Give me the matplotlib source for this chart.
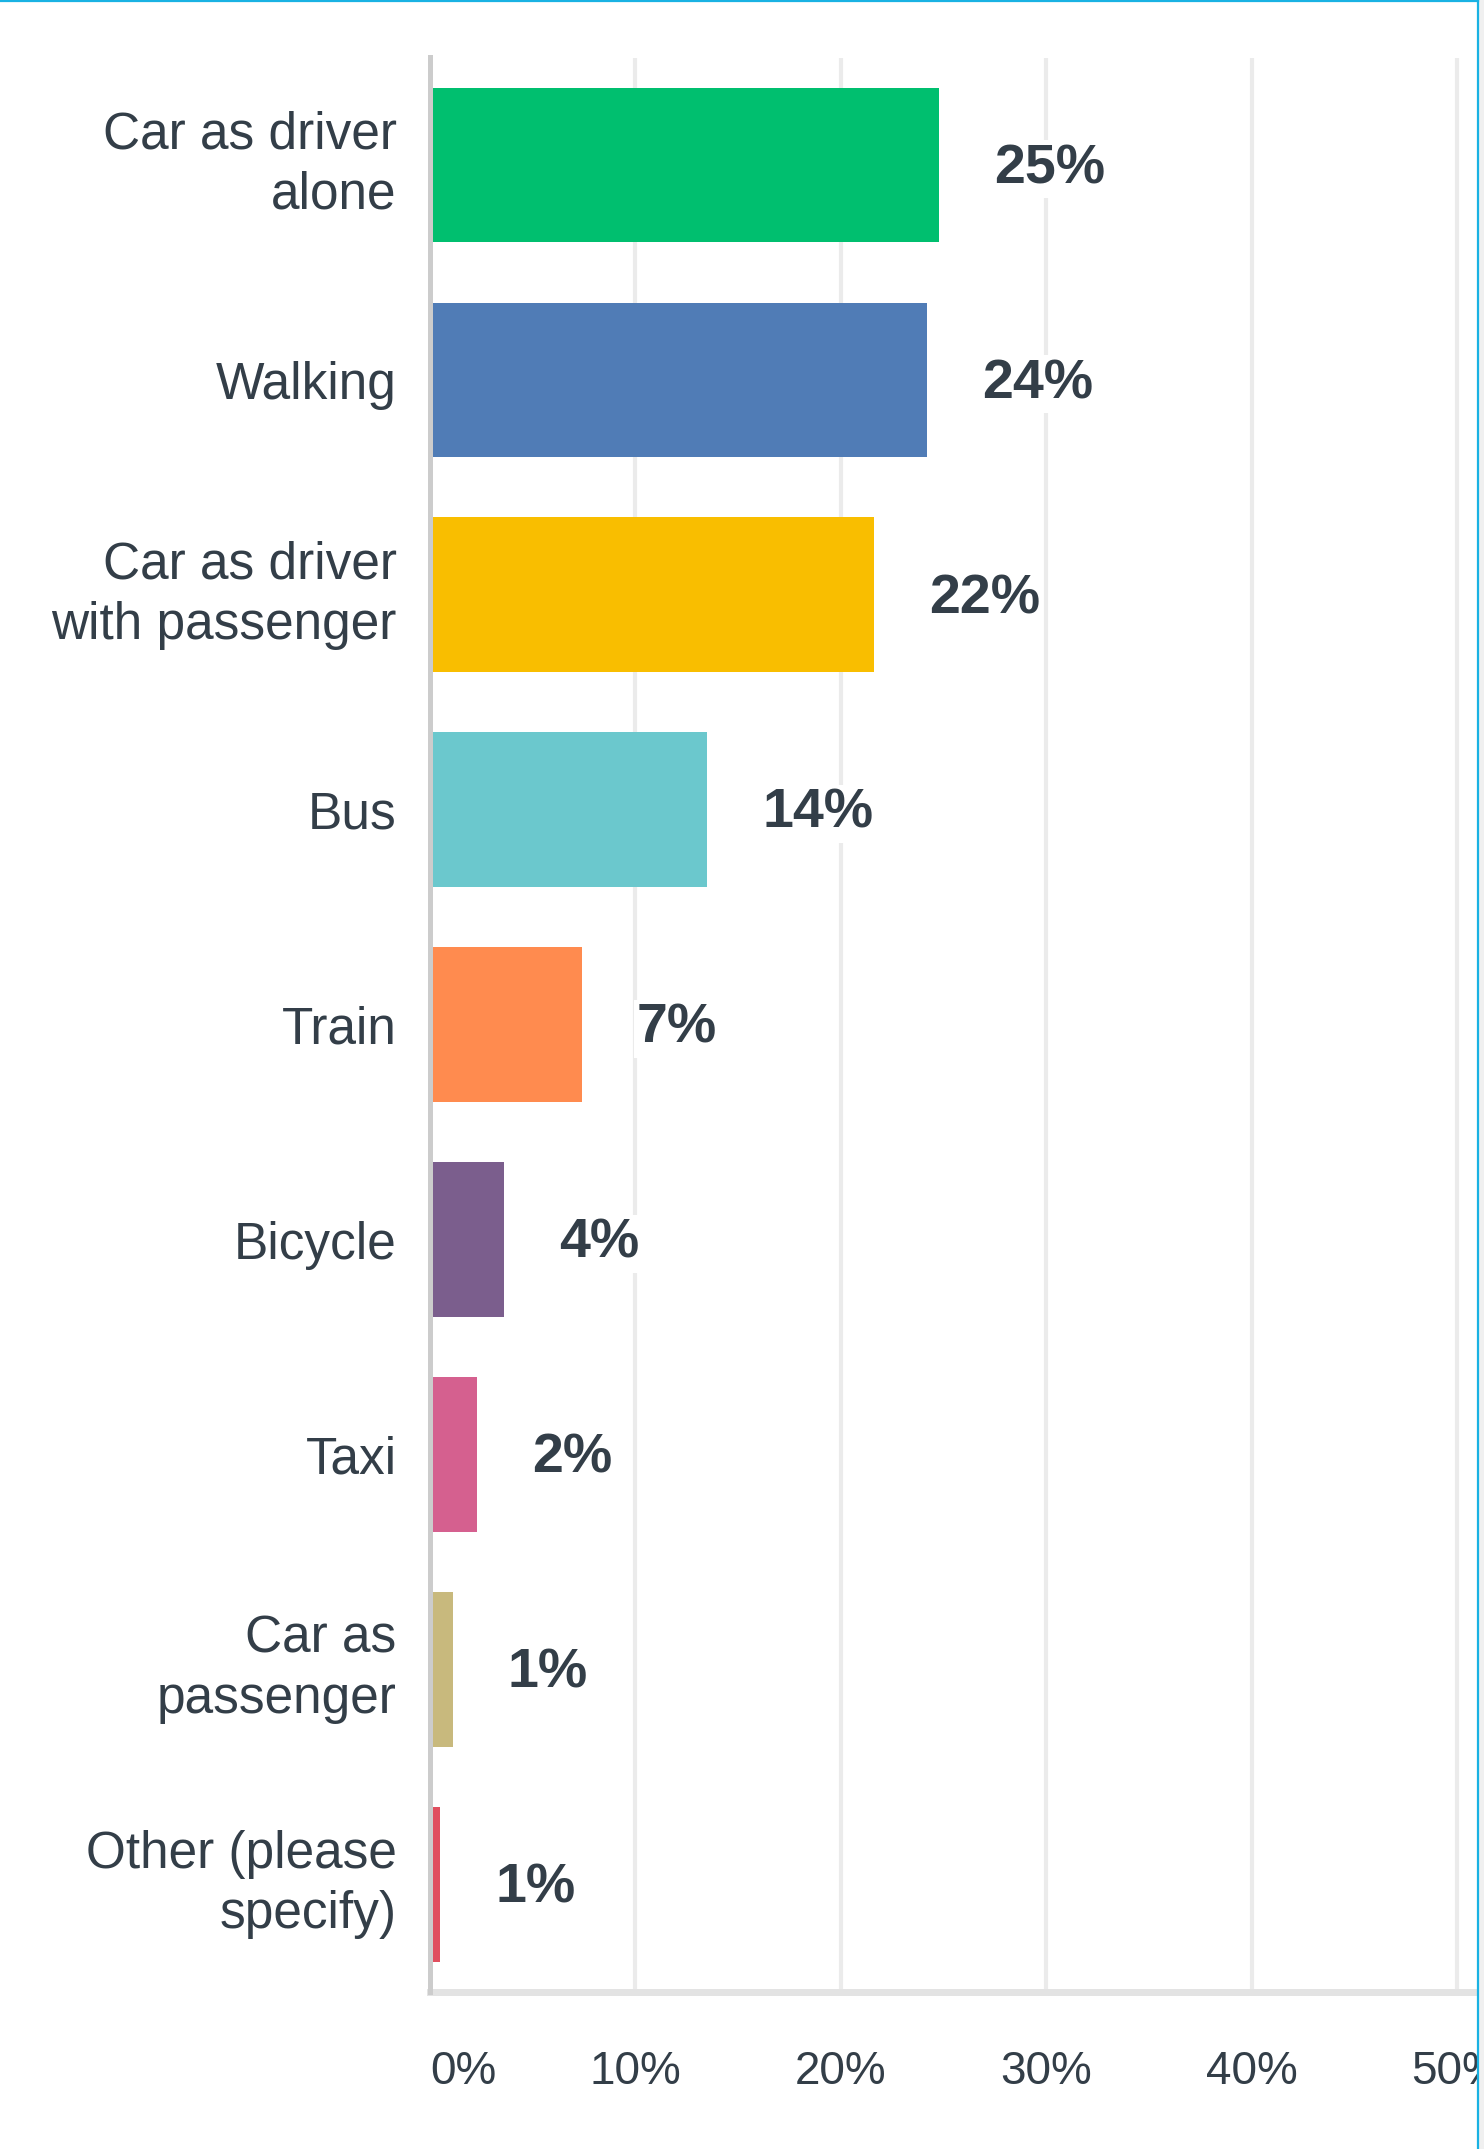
import matplotlib
matplotlib.use('Agg')
import matplotlib.pyplot as plt
from matplotlib.patches import Rectangle
from matplotlib.lines import Line2D

plt.rcParams['font.family'] = ['Liberation Sans', 'DejaVu Sans']

categories = ['Car as driver\nalone', 'Walking', 'Car as driver\nwith passenger', 'Bus', 'Train',
              'Bicycle', 'Taxi', 'Car as\npassenger', 'Other (please\nspecify)']
values = [24.8, 24.2, 21.6, 13.5, 7.4, 3.6, 2.3, 1.1, 0.5]
value_labels = ['25%', '24%', '22%', '14%', '7%', '4%', '2%', '1%', '1%']
colors = ['#00bf6f', '#507cb6', '#f9be00', '#6bc8cd', '#ff8b4f',
          '#7b5e8d', '#d5608f', '#c8b97d', '#e04f5f']
xticks = [0, 10, 20, 30, 40, 50]
xtick_labels = ['0%', '10%', '20%', '30%', '40%', '50%']

W, H = 1484, 2149
text_col = '#333e48'

fig = plt.figure(figsize=(W / 100, H / 100), dpi=100)
# axes box in pixels: left 430, right 1477, top 57.5, bottom 1992
ax = fig.add_axes([430 / W, 1 - 1992 / H, (1477 - 430) / W, (1992 - 57.5) / H])

ypos = list(range(len(categories)))
ax.barh(ypos, values, height=0.72, color=colors, zorder=2)

ax.set_xlim(0, 1047 / 20.54)
ax.set_ylim(len(categories) - 0.5, -0.5)

ax.set_xticks(xticks)
ax.set_xticklabels(xtick_labels, fontsize=33, color=text_col)
ax.get_xticklabels()[0].set_horizontalalignment('left')
ax.set_yticks(ypos)
ax.set_yticklabels(categories, fontsize=37, color=text_col, linespacing=1.3)
for t in ax.get_yticklabels():
    if '\n' in t.get_text():
        t.set_verticalalignment('center')
ax.tick_params(axis='both', length=0)
ax.tick_params(axis='y', pad=24)
ax.tick_params(axis='x', pad=42)

ax.grid(axis='x', color='#ebebeb', linewidth=3, zorder=0)
ax.set_axisbelow(True)

for s in ['top', 'right']:
    ax.spines[s].set_visible(False)
ax.spines['left'].set_color('#cccccc')
ax.spines['left'].set_linewidth(3.6)
ax.spines['left'].set_zorder(3)
ax.spines['bottom'].set_color('#e3e3e3')
ax.spines['bottom'].set_linewidth(5)

for y, v, lbl in zip(ypos, values, value_labels):
    ax.annotate(lbl, (v, y), xytext=(39.6, -3), textcoords='offset points',
                ha='left', va='center', fontsize=40, fontweight='bold', color=text_col,
                bbox=dict(facecolor='white', edgecolor='none', pad=2), zorder=4)

# frame: blue border top and right, grey strip on the far right
fig.add_artist(Rectangle((1478.5 / W, 0), 6 / W, 1, transform=fig.transFigure,
                         facecolor='#f0f0f0', edgecolor='none', zorder=10))
fig.add_artist(Line2D([1477.5 / W, 1477.5 / W], [0, 1], transform=fig.transFigure,
                      color='#19b2e3', linewidth=1.6, zorder=11))
fig.add_artist(Line2D([0, 1477.5 / W], [1 - 1 / H, 1 - 1 / H], transform=fig.transFigure,
                      color='#19b2e3', linewidth=1.6, zorder=11))

fig.savefig('out.png', dpi=100)
